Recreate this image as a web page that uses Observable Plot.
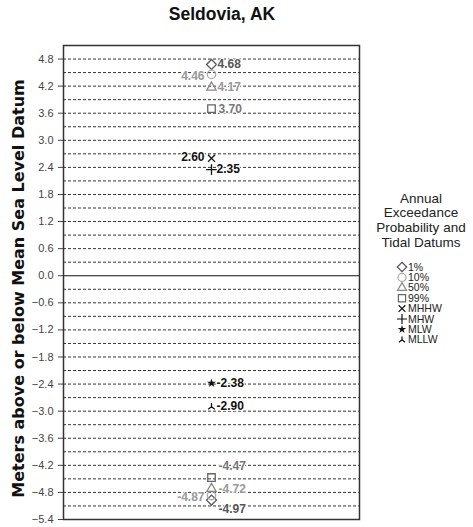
<!DOCTYPE html>
<html>
<head>
<meta charset="utf-8">
<script src="https://cdn.jsdelivr.net/npm/d3@7"></script>
<script src="https://cdn.jsdelivr.net/npm/@observablehq/plot@0.6"></script>
<style>
  html, body { margin: 0; padding: 0; background: white; }
  #wrap { position: relative; width: 473px; height: 527px; font-family: "Liberation Sans", Arial, sans-serif; }
  #title { position: absolute; left: 0; top: 4px; width: 444px; text-align: center; font-weight: bold; font-size: 17.5px; color: #111; }
  #legend { position: absolute; left: 0; top: 0; pointer-events: none; }
</style>
</head>
<body>
<div id="wrap">
  <div id="chart"></div>
  <div id="title"></div>
  <svg id="legend" width="473" height="527"></svg>
</div>
<script>
// ---- data ----
const chartTitle = "Seldovia, AK";
const yLabel = "Meters above or below Mean Sea Level Datum";
const legendTitle = ["Annual", "Exceedance", "Probability and", "Tidal Datums"];
const probabilityLevels = ["1%", "10%", "50%", "99%"];
const highWater = [4.68, 4.46, 4.17, 3.70];
const lowWater = [-4.97, -4.87, -4.72, -4.47];
const tidalDatums = ["MHHW", "MHW", "MLW", "MLLW"];
const tidalValues = [2.60, 2.35, -2.38, -2.90];
const yTickValues = [4.8, 4.2, 3.6, 3.0, 2.4, 1.8, 1.2, 0.6, 0.0, -0.6, -1.2, -1.8, -2.4, -3.0, -3.6, -4.2, -4.8, -5.4];

// ---- styles ----
const thinWye = {
  draw(context, size) {
    const r = Math.sqrt(size / Math.PI);
    context.moveTo(0, 0); context.lineTo(0, -r);
    context.moveTo(0, 0); context.lineTo(-r * 0.9, r * 0.7);
    context.moveTo(0, 0); context.lineTo(r * 0.9, r * 0.7);
  }
};
const seriesStyle = {
  "1%":   {symbol: "diamond2",  color: "#555", filled: false, label: "#555", r: 4.5},
  "10%":  {symbol: "circle",    color: "#aaa", filled: false, label: "#999", r: 4.2},
  "50%":  {symbol: "triangle2", color: "#888", filled: false, label: "#999", r: 4.5},
  "99%":  {symbol: "square2",   color: "#666", filled: false, label: "#777", r: 4.8},
  "MHHW": {symbol: "times",     color: "#111", filled: false, label: "#111", r: 3.3},
  "MHW":  {symbol: "plus",      color: "#111", filled: false, label: "#111", r: 3.5},
  "MLW":  {symbol: "star",      color: "#111", filled: true,  label: "#111", r: 2.8},
  "MLLW": {symbol: thinWye,     color: "#111", filled: false, label: "#111", r: 3.6}
};
const seriesOrder = [...probabilityLevels, ...tidalDatums];
// label placement per point (key = series|which)
const labelPlace = {
  "1%|high":  {anchor: "start", dx: 6,  dy: 0},
  "10%|high": {anchor: "end",   dx: -7, dy: 2},
  "50%|high": {anchor: "start", dx: 6,  dy: 0},
  "99%|high": {anchor: "start", dx: 7,  dy: 0},
  "1%|low":   {anchor: "start", dx: 7,  dy: 9},
  "10%|low":  {anchor: "end",   dx: -7, dy: 2},
  "50%|low":  {anchor: "start", dx: 7,  dy: 0},
  "99%|low":  {anchor: "start", dx: 7,  dy: -11},
  "MHHW|tide": {anchor: "end",  dx: -7, dy: -1},
  "MHW|tide":  {anchor: "start", dx: 5, dy: 0},
  "MLW|tide":  {anchor: "start", dx: 5, dy: 0},
  "MLLW|tide": {anchor: "start", dx: 5, dy: 0}
};

const rows = [];
probabilityLevels.forEach((s, i) => {
  rows.push({series: s, value: highWater[i], key: s + "|high"});
  rows.push({series: s, value: lowWater[i], key: s + "|low"});
});
tidalDatums.forEach((s, i) => rows.push({series: s, value: tidalValues[i], key: s + "|tide"}));
rows.forEach(d => d.x = 0.5);

const gridValues = d3.range(-17, 17).map(k => +(k * 0.3).toFixed(1)).filter(v => v !== 0 && v > -5.4 && v < 5.1);

const marks = [
  Plot.ruleY(gridValues, {stroke: "#333", strokeDasharray: "3,2", strokeWidth: 1}),
  Plot.ruleY([0], {stroke: "#111", strokeWidth: 1.2}),
  Plot.frame({stroke: "#333", strokeWidth: 1.5}),
  Plot.axisY({ticks: yTickValues, tickFormat: d3.format(".1f"), tickSize: 5, tickPadding: 5, fontSize: 11, color: "#444", label: null}),
  Plot.text([yLabel], {frameAnchor: "left", textAnchor: "middle", rotate: -90, dx: -45, dy: 6, fontSize: 16, fontWeight: "bold", fill: "#111",
    fontFamily: "'DejaVu Sans', sans-serif", letterSpacing: 0.3})
];
for (const s of seriesOrder) {
  const st = seriesStyle[s];
  const data = rows.filter(d => d.series === s);
  marks.push(Plot.dot(data, {
    x: "x", y: "value", symbol: () => st.symbol, r: st.r,
    stroke: st.filled ? "none" : st.color, fill: st.filled ? st.color : "none", strokeWidth: 1.3
  }));
}
for (const d of rows) {
  const p = labelPlace[d.key];
  marks.push(Plot.text([d], {
    x: "x", y: "value", text: v => v.value.toFixed(2), textAnchor: p.anchor, dx: p.dx, dy: p.dy,
    fill: seriesStyle[d.series].label, stroke: "white", strokeWidth: 2, fontSize: 12, fontWeight: "bold"
  }));
}

const chart = Plot.plot({
  width: 473, height: 527,
  marginLeft: 63, marginRight: 114, marginTop: 45, marginBottom: 8,
  style: {fontFamily: "'Liberation Sans', Arial, sans-serif", background: "white"},
  x: {domain: [0, 1], axis: null},
  y: {domain: [-5.4, 5.1]},
  marks
});
document.getElementById("chart").appendChild(chart);
document.getElementById("title").textContent = chartTitle;

// legend
const lg = d3.select("#legend");
const cx = 421;
legendTitle.forEach((t, i) => {
  lg.append("text").attr("x", cx).attr("y", 198 + i * 14.7).attr("dy", "0.35em")
    .attr("text-anchor", "middle").attr("font-size", 13.5).attr("fill", "#222").text(t);
});
const symMap = {diamond2: d3.symbolDiamond2, circle: d3.symbolCircle, triangle2: d3.symbolTriangle2, square2: d3.symbolSquare2,
  times: d3.symbolTimes, plus: d3.symbolPlus, star: d3.symbolStar};
seriesOrder.forEach((s, i) => {
  const st = seriesStyle[s];
  const y = 267 + i * 10.4;
  const type = typeof st.symbol === "string" ? symMap[st.symbol] : st.symbol;
  const size = Math.PI * (st.r * 0.95) ** 2;
  lg.append("path").attr("transform", `translate(402,${y})`)
    .attr("d", d3.symbol(type, size)())
    .attr("fill", st.filled ? st.color : "none").attr("stroke", st.filled ? "none" : st.color).attr("stroke-width", 1.2);
  lg.append("text").attr("x", 408).attr("y", y).attr("dy", "0.35em").attr("font-size", 10.5).attr("fill", "#222").text(s);
});
</script>
</body>
</html>
